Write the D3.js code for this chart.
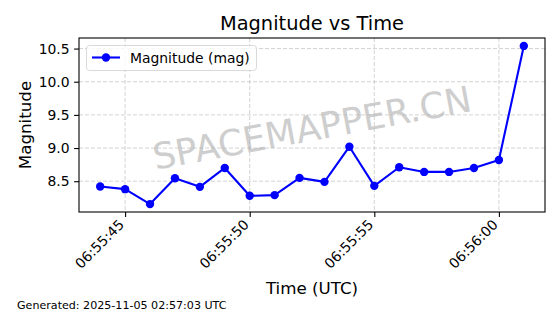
<!DOCTYPE html>
<html lang="en">
<head>
    <meta charset="UTF-8">
    <title>Magnitude vs Time</title>
    <script src="https://d3js.org/d3.v7.min.js"></script>
    <style>
        body { margin: 0; background: #fff; }
        text { font-family: "DejaVu Sans", sans-serif; }
    </style>
</head>
<body>
<svg></svg>
<script>
    // one sample per second, starting 06:55:44 UTC
    let times = ["06:55:44", "06:55:45", "06:55:46", "06:55:47", "06:55:48", "06:55:49",
        "06:55:50", "06:55:51", "06:55:52", "06:55:53", "06:55:54", "06:55:55",
        "06:55:56", "06:55:57", "06:55:58", "06:55:59", "06:56:00", "06:56:01"];
    let magnitudes = [8.42, 8.38, 8.155, 8.545, 8.415, 8.70,
        8.28, 8.29, 8.55, 8.49, 9.02, 8.43,
        8.71, 8.64, 8.64, 8.70, 8.82, 10.54];
    let yTicks = [8.5, 9.0, 9.5, 10.0, 10.5];

    let width = 560;
    let height = 314;
    let margin = {top: 38, right: 15, bottom: 102, left: 79};

    let parse = d3.utcParse("%Y-%m-%d %H:%M:%S");
    let data = times.map((t, i) => ({time: parse("2025-11-05 " + t), mag: magnitudes[i]}));

    let svg = d3.select("svg")
        .attr("width", width)
        .attr("height", height);

    // matplotlib style 5% margins around the data
    let tExt = d3.extent(data, d => d.time);
    let tPad = (tExt[1] - tExt[0]) * 0.05;
    let x = d3.scaleUtc()
        .domain([new Date(+tExt[0] - tPad), new Date(+tExt[1] + tPad)])
        .range([margin.left, width - margin.right]);

    let mExt = d3.extent(data, d => d.mag);
    let mPad = (mExt[1] - mExt[0]) * 0.05;
    let y = d3.scaleLinear()
        .domain([mExt[0] - mPad, mExt[1] + mPad])
        .range([height - margin.bottom, margin.top]);

    let xTicks = x.ticks(d3.utcSecond.every(5));
    let plotLeft = margin.left, plotRight = width - margin.right;
    let plotTop = margin.top, plotBottom = height - margin.bottom;

    // watermark
    svg.append("text")
        .attr("transform", "translate(312,128) rotate(-10.5)")
        .attr("text-anchor", "middle")
        .attr("dy", "0.35em")
        .style("font-size", "36px")
        .style("fill", "#808080")
        .style("opacity", 0.38)
        .text("SPACEMAPPER.CN");

    // grid
    let grid = svg.append("g")
        .attr("stroke", "#b0b0b0")
        .attr("stroke-opacity", 0.7)
        .attr("stroke-width", 0.8)
        .attr("stroke-dasharray", "4,2");
    grid.selectAll(".gx").data(xTicks).enter().append("line")
        .attr("x1", d => x(d)).attr("x2", d => x(d))
        .attr("y1", plotTop).attr("y2", plotBottom);
    grid.selectAll(".gy").data(yTicks).enter().append("line")
        .attr("x1", plotLeft).attr("x2", plotRight)
        .attr("y1", d => y(d)).attr("y2", d => y(d));

    // x axis
    let xAxis = svg.append("g")
        .attr("transform", "translate(0," + plotBottom + ")")
        .call(d3.axisBottom(x).tickValues(xTicks).tickFormat(d3.utcFormat("%H:%M:%S"))
            .tickSize(4.9).tickSizeOuter(0));
    xAxis.select(".domain").remove();
    xAxis.selectAll(".tick line").attr("stroke", "#000").attr("stroke-width", 1.1);
    xAxis.selectAll(".tick text")
        .attr("y", 0).attr("dy", "0.35em")
        .attr("text-anchor", "end")
        .attr("transform", "translate(-4,10) rotate(-45)")
        .style("font-size", "13.9px")
        .style("fill", "#000");

    // y axis
    let yAxis = svg.append("g")
        .attr("transform", "translate(" + plotLeft + ",0)")
        .call(d3.axisLeft(y).tickValues(yTicks).tickFormat(d3.format(".1f"))
            .tickSize(4.9).tickPadding(4.5).tickSizeOuter(0));
    yAxis.select(".domain").remove();
    yAxis.selectAll(".tick line").attr("stroke", "#000").attr("stroke-width", 1.1);
    yAxis.selectAll(".tick text")
        .style("font-size", "13.9px")
        .style("fill", "#000");

    // data line and markers
    let line = d3.line()
        .x(d => x(d.time))
        .y(d => y(d.mag));
    svg.append("path")
        .datum(data)
        .attr("d", line)
        .attr("fill", "none")
        .attr("stroke", "#0000ff")
        .attr("stroke-width", 2.1)
        .attr("stroke-linejoin", "round");
    svg.selectAll(".dot").data(data).enter().append("circle")
        .attr("cx", d => x(d.time))
        .attr("cy", d => y(d.mag))
        .attr("r", 4.2)
        .attr("fill", "#0000ff");

    // frame
    svg.append("rect")
        .attr("x", plotLeft).attr("y", plotTop)
        .attr("width", plotRight - plotLeft).attr("height", plotBottom - plotTop)
        .attr("fill", "none").attr("stroke", "#000").attr("stroke-width", 1.1);

    // legend
    let legend = svg.append("g");
    legend.append("rect")
        .attr("x", 86.5).attr("y", 45.5).attr("width", 170).attr("height", 25)
        .attr("rx", 3)
        .attr("fill", "#fff").attr("fill-opacity", 0.8)
        .attr("stroke", "#d9d9d9");
    legend.append("line")
        .attr("x1", 92).attr("x2", 120).attr("y1", 57.5).attr("y2", 57.5)
        .attr("stroke", "#0000ff").attr("stroke-width", 2.1);
    legend.append("circle")
        .attr("cx", 106).attr("cy", 57.5).attr("r", 4.2).attr("fill", "#0000ff");
    legend.append("text")
        .attr("x", 130).attr("y", 62.5)
        .style("font-size", "13.9px")
        .text("Magnitude (mag)");

    // titles
    svg.append("text")
        .attr("x", (plotLeft + plotRight) / 2).attr("y", 30)
        .attr("text-anchor", "middle")
        .style("font-size", "19.4px")
        .text("Magnitude vs Time");
    svg.append("text")
        .attr("x", (plotLeft + plotRight) / 2).attr("y", 294)
        .attr("text-anchor", "middle")
        .style("font-size", "16.7px")
        .text("Time (UTC)");
    svg.append("text")
        .attr("transform", "translate(31," + (plotTop + plotBottom) / 2 + ") rotate(-90)")
        .attr("text-anchor", "middle")
        .style("font-size", "16.7px")
        .text("Magnitude");
    svg.append("text")
        .attr("x", 17).attr("y", 309)
        .style("font-size", "11.1px")
        .text("Generated: 2025-11-05 02:57:03 UTC");
</script>
</body>
</html>
